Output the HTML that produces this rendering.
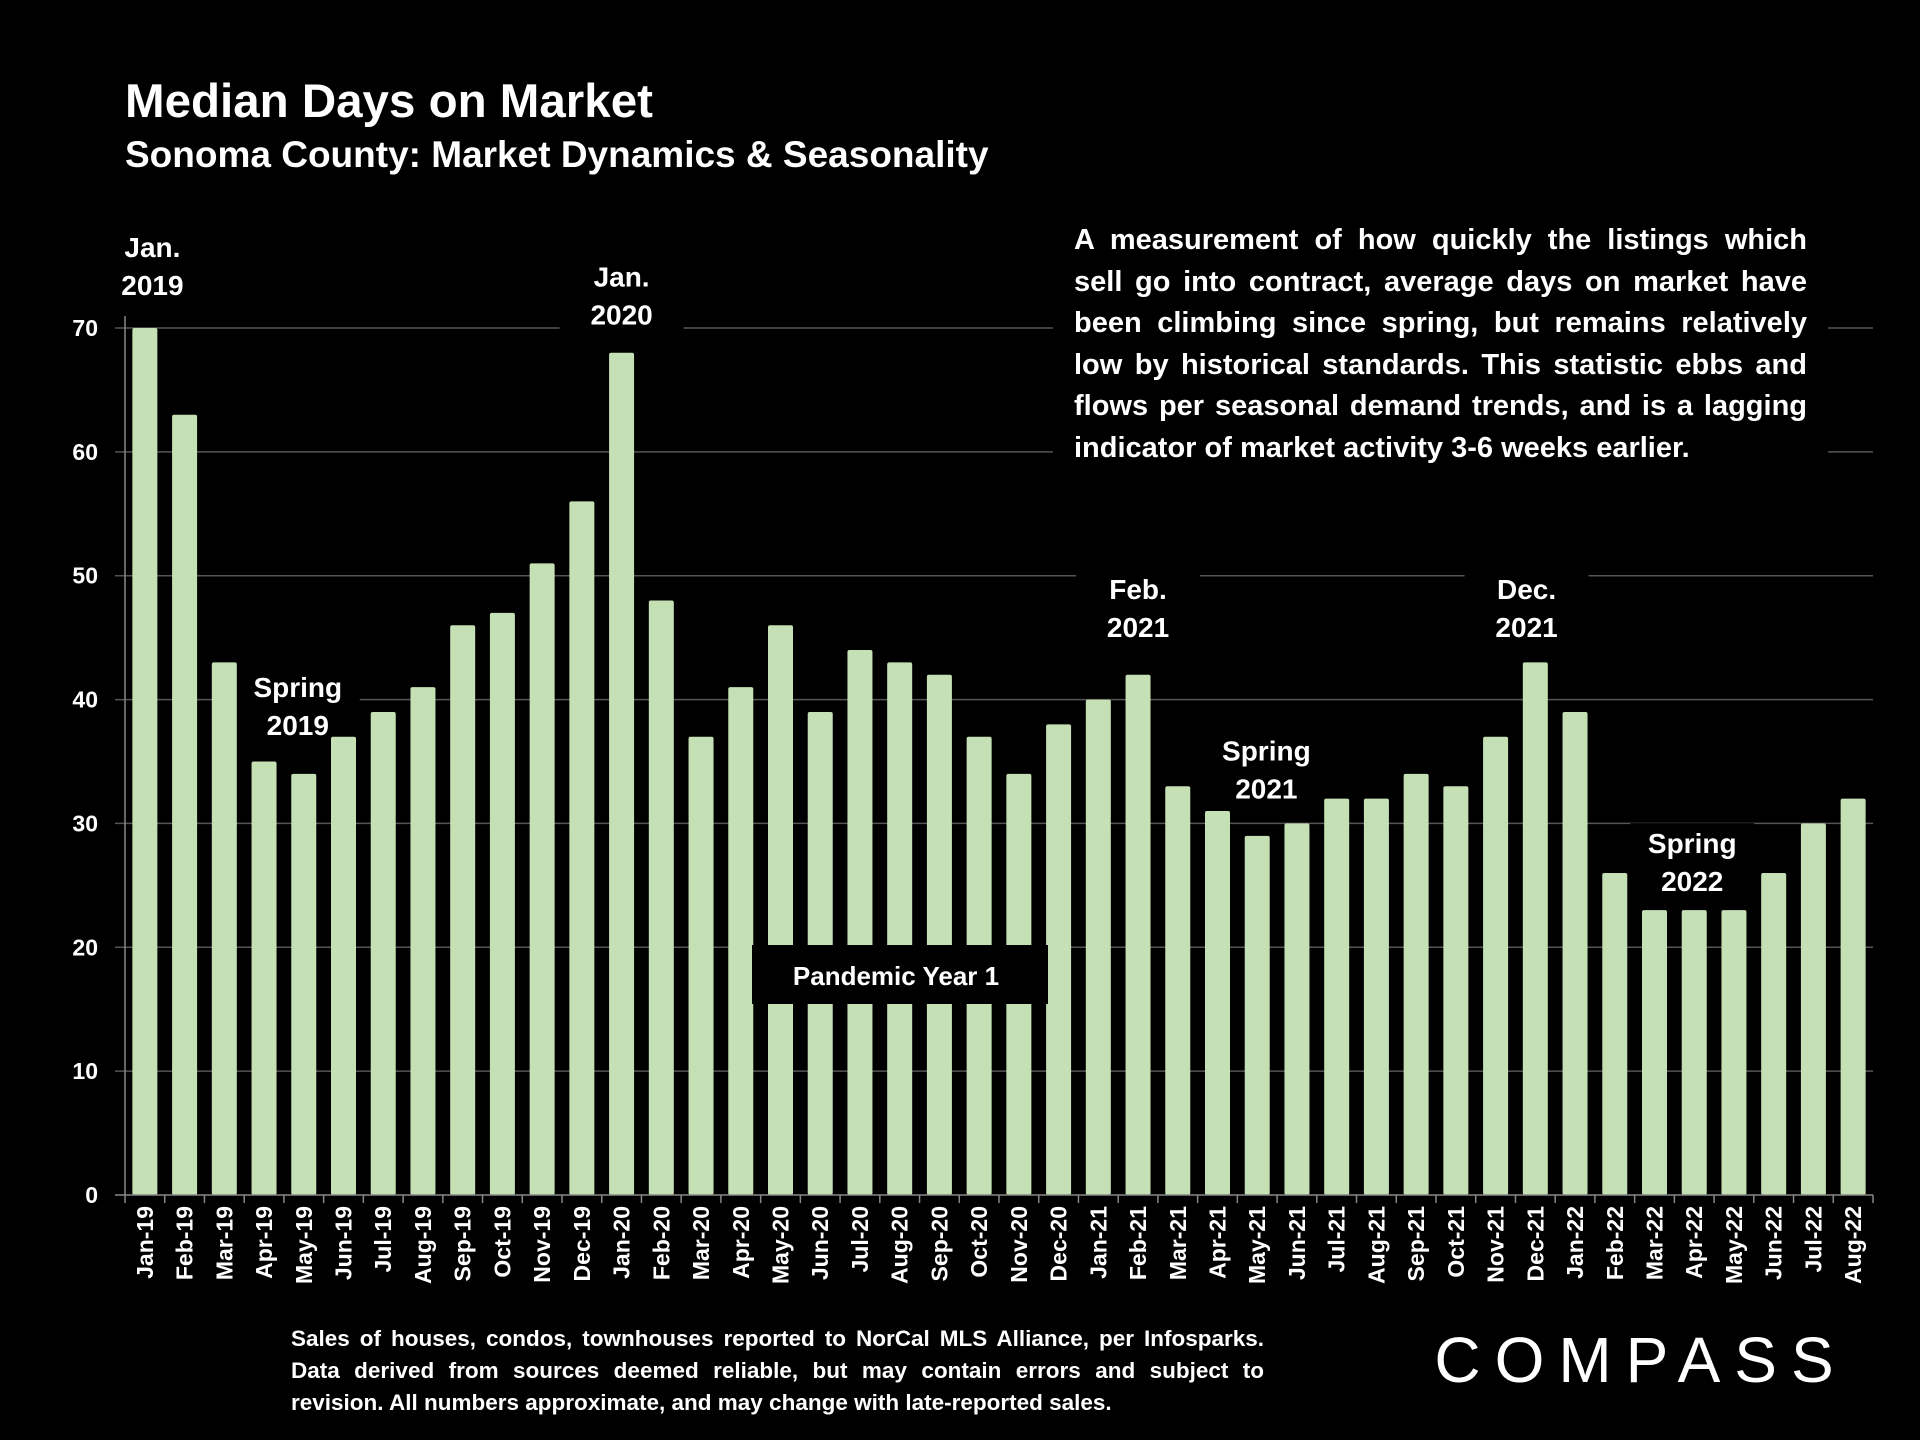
<!DOCTYPE html>
<html><head><meta charset="utf-8"><style>
html,body{margin:0;padding:0;background:#000;}
svg{display:block;font-family:"Liberation Sans","DejaVu Sans",sans-serif;}
.desc{position:absolute;left:1053px;top:216px;width:733px;padding:4px 21px 6px 21px;color:#fff;font:bold 29px/41.6px "Liberation Sans",sans-serif;text-align:justify;text-align-last:left;background:#000;}
.foot{position:absolute;left:291px;top:1323px;width:973px;color:#fff;font:bold 22.5px/32px "Liberation Sans",sans-serif;text-align:justify;text-align-last:left;}
</style></head><body>
<div style="position:relative;width:1920px;height:1440px;overflow:hidden;background:#000">
<svg id="chart" width="1920" height="1440">
<text x="125" y="117" fill="#fff" font-size="47.5" font-weight="bold">Median Days on Market</text>
<text x="125" y="167" fill="#fff" font-size="37" font-weight="bold">Sonoma County: Market Dynamics &amp; Seasonality</text>
<g id="annbg"></g><g id="grid"></g><g id="bars"></g><g id="axes"></g><g id="ann"></g>
<text x="1641" y="1382" fill="#fff" font-size="64" text-anchor="middle" letter-spacing="14">COMPASS</text>
</svg>
<div class="desc">A measurement of how quickly the listings which sell go into contract, average days on market have been climbing since spring, but remains relatively low by historical standards. This statistic ebbs and flows per seasonal demand trends, and is a lagging indicator of market activity 3-6 weeks earlier.</div>
<div class="foot">Sales of houses, condos, townhouses reported to NorCal MLS Alliance, per Infosparks. Data derived from sources deemed reliable, but may contain errors and subject to revision. All numbers approximate, and may change with late-reported sales.</div>
</div>
<script>
const categories=["Jan-19","Feb-19","Mar-19","Apr-19","May-19","Jun-19","Jul-19","Aug-19","Sep-19","Oct-19","Nov-19","Dec-19","Jan-20","Feb-20","Mar-20","Apr-20","May-20","Jun-20","Jul-20","Aug-20","Sep-20","Oct-20","Nov-20","Dec-20","Jan-21","Feb-21","Mar-21","Apr-21","May-21","Jun-21","Jul-21","Aug-21","Sep-21","Oct-21","Nov-21","Dec-21","Jan-22","Feb-22","Mar-22","Apr-22","May-22","Jun-22","Jul-22","Aug-22"];
const values=[70,63,43,35,34,37,39,41,46,47,51,56,68,48,37,41,46,39,44,43,42,37,34,38,40,42,33,31,29,30,32,32,34,33,37,43,39,26,23,23,23,26,30,32];
const yTicks=[0,10,20,30,40,50,60,70];
const annLabels=[["Jan.","2019"],["Jan.","2020"],["Spring","2019"],["Feb.","2021"],["Spring","2021"],["Dec.","2021"],["Spring","2022"]];
const annIndex=[0.19,12,3.85,25,28.23,34.78,38.95];
const annValue=[75.75,73.35,40.2,48.1,35.1,48.1,27.6];
const NS="http://www.w3.org/2000/svg";
const X0=125,X1=1873,Y0=1195,YT=328,band=(X1-X0)/categories.length;
const y=v=>Y0-(v/70)*(Y0-YT);
const x=i=>X0+band*(i+0.5);
function mk(p,tag,a){const e=document.createElementNS(NS,tag);for(const k in a)e.setAttribute(k,a[k]);p.appendChild(e);return e;}
const grid=document.getElementById('grid'),bars=document.getElementById('bars'),axes=document.getElementById('axes'),ann=document.getElementById('ann'),annbg=document.getElementById('annbg');
yTicks.forEach(t=>{
 if(t>0){const l=mk(grid,'line',{x1:X0-10,x2:X1,y1:y(t),y2:y(t),stroke:'#555','stroke-width':1.5});
 
 }
 const tx=mk(axes,'text',{x:98,y:y(t)+8,fill:'#fff','font-size':23,'font-weight':'bold','text-anchor':'end'});tx.textContent=t;
 
 
});
values.forEach((v,i)=>{
 const r=mk(bars,'rect',{x:x(i)-12.5,y:y(v),width:25,height:Y0-y(v),fill:'#c5e0b4',rx:2});
 
 
 const t=mk(axes,'text',{transform:`translate(${x(i)+8},1206) rotate(-90)`,fill:'#fff','font-size':23,'font-weight':'bold','text-anchor':'end'});t.textContent=categories[i];
 
 
 mk(axes,'line',{x1:X0+band*(i+1),x2:X0+band*(i+1),y1:Y0,y2:Y0+8,stroke:'#888','stroke-width':1.5});
});
mk(axes,'line',{x1:X0,x2:X0,y1:YT-12,y2:Y0+8,stroke:'#888','stroke-width':1.5});
mk(axes,'line',{x1:X0-10,x2:X1,y1:Y0,y2:Y0,stroke:'#888','stroke-width':1.5});
annLabels.forEach((lab,k)=>{
 const cx=x(annIndex[k]),ty=y(annValue[k]);
 lab.forEach((s,j)=>{const t=mk(ann,'text',{x:cx,y:ty+j*38,fill:'#fff','font-size':28,'font-weight':'bold','text-anchor':'middle'});t.textContent=s;
 
 });
});
// black masks that hide gridlines behind annotations (drawn above grid, below bars)
annLabels.forEach((lab,k)=>{
 const cx=x(annIndex[k]),ty=y(annValue[k]);
 const bg=mk(grid,'rect',{x:cx-62,y:ty-30,width:124,height:86,fill:'#000'});
 
 
});
const pb=mk(ann,'rect',{x:752,y:945,width:296,height:59,fill:'#000'});


const pt=mk(ann,'text',{x:896,y:985,fill:'#fff','font-size':26,'font-weight':'bold','text-anchor':'middle'});pt.textContent='Pandemic Year 1';


</script>
</body></html>
